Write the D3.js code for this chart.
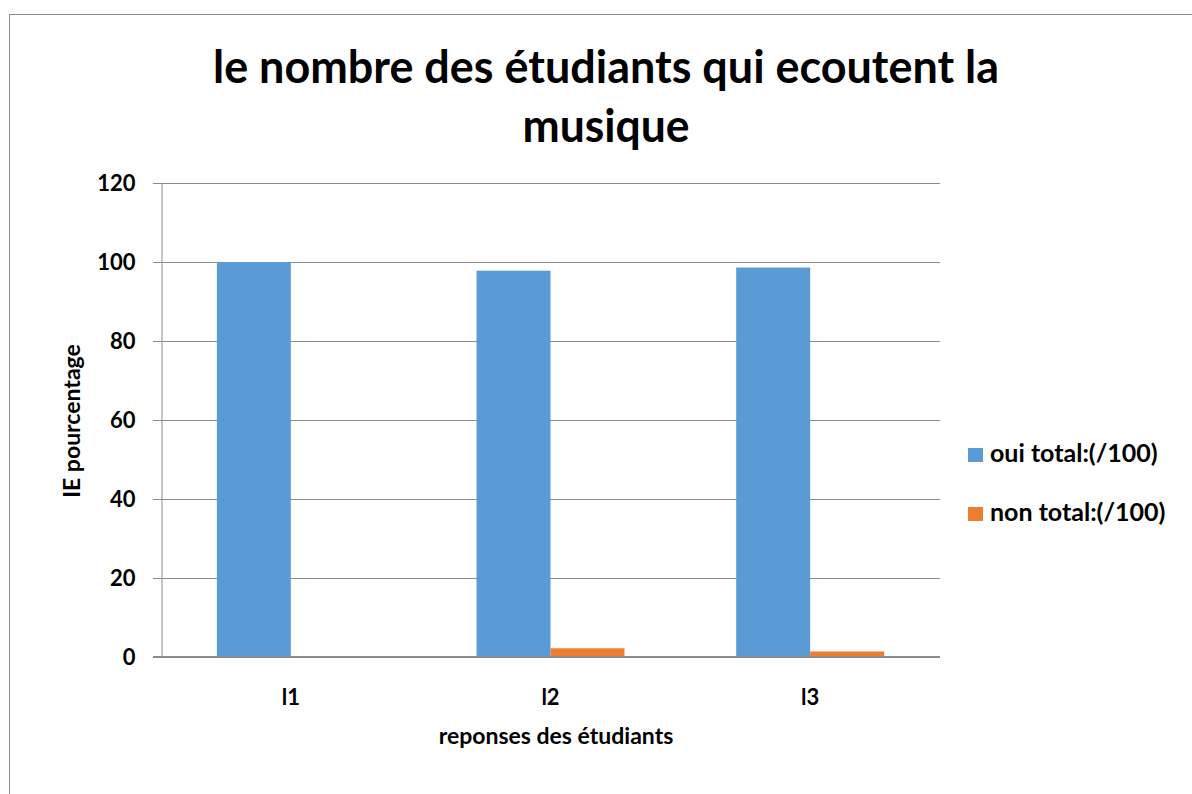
<!DOCTYPE html>
<html>
<head>
<meta charset="utf-8">
<script src="https://cdn.jsdelivr.net/npm/d3@7"></script>
<style>
  body { margin: 0; background: #fff; }
  text { font-family: Lato, "Open Sans", sans-serif; font-weight: bold; fill: #000; }
</style>
</head>
<body>
<div id="chart"></div>
<script>
// data
var categories = ["l1", "l2", "l3"];
var seriesNames = ["oui total:(/100)", "non total:(/100)"];
var ouiValues = [100, 97.8, 98.6];
var nonValues = [0, 2.2, 1.4];
var yTicks = [0, 20, 40, 60, 80, 100, 120];
var titleLines = ["le nombre des étudiants qui ecoutent la", "musique"];
var colors = ["#5b9bd5", "#ed7d31"];

var width = 1192, height = 794;
var plotLeft = 161, plotRight = 940, plotTop = 183, plotBottom = 657;

var svg = d3.select("#chart").append("svg")
    .attr("width", width).attr("height", height);

// chart frame
svg.append("rect")
    .attr("x", 9.5).attr("y", 14.5)
    .attr("width", width + 20).attr("height", height + 20)
    .attr("fill", "#fff").attr("stroke", "#8c8c8c").attr("stroke-width", 1);

var x0 = d3.scaleBand().domain(categories).range([plotLeft, plotRight]).padding(0);
var x1 = d3.scaleBand().domain(seriesNames).range([0, x0.bandwidth()])
    .paddingInner(0).paddingOuter(0.755);
var y = d3.scaleLinear().domain([0, 120]).range([plotBottom, plotTop]);

// gridlines
svg.append("g").selectAll("line").data(yTicks).enter().append("line")
    .attr("x1", plotLeft - 8).attr("x2", plotRight)
    .attr("y1", function(d) { return Math.round(y(d)) + 0.5; })
    .attr("y2", function(d) { return Math.round(y(d)) + 0.5; })
    .attr("stroke", "#8c8c8c")
    .attr("stroke-width", 1);

// y axis
var yAxis = svg.append("g")
    .attr("transform", "translate(" + (plotLeft + 0.5) + ",0)")
    .call(d3.axisLeft(y).tickValues(yTicks).tickSize(0).tickPadding(26));
yAxis.select(".domain").attr("stroke", "#8c8c8c");
yAxis.selectAll("text").style("font-size", "22px").style("font-family", "Lato").style("font-weight", "bold").attr("fill", "#000");

// bars
var rows = categories.map(function(c, i) {
  return { cat: c, vals: [ouiValues[i], nonValues[i]] };
});
var groups = svg.append("g").selectAll("g").data(rows).enter().append("g")
    .attr("transform", function(d) { return "translate(" + x0(d.cat) + ",0)"; });
groups.selectAll("rect")
    .data(function(d) { return d.vals.map(function(v, j) { return { s: seriesNames[j], v: v, j: j }; }); })
    .enter().append("rect")
    .attr("x", function(d) { return x1(d.s); })
    .attr("width", x1.bandwidth())
    .attr("y", function(d) { return y(d.v); })
    .attr("height", function(d) { return plotBottom - y(d.v); })
    .attr("fill", function(d) { return colors[d.j]; });

// baseline over bars
svg.append("line")
    .attr("x1", plotLeft - 8).attr("x2", plotRight)
    .attr("y1", plotBottom).attr("y2", plotBottom)
    .attr("stroke", "#8c8c8c").attr("stroke-width", 2);

// x axis labels
var xAxis = svg.append("g")
    .attr("transform", "translate(0," + plotBottom + ")")
    .call(d3.axisBottom(x0).tickSize(0).tickPadding(32));
xAxis.select(".domain").remove();
xAxis.selectAll("text").style("font-size", "22px").style("font-family", "Lato").style("font-weight", "bold").attr("fill", "#000");

// axis titles
svg.append("text")
    .attr("x", 556).attr("y", 744)
    .attr("text-anchor", "middle")
    .style("font-size", "23px")
    .text("reponses des étudiants");

svg.append("text")
    .attr("transform", "translate(80,421) rotate(-90)")
    .attr("text-anchor", "middle")
    .style("font-size", "23px")
    .text("IE pourcentage");

// title
var titleY = [83, 142];
var titleW = [786, 167];
titleLines.forEach(function(t, i) {
  svg.append("text")
    .attr("x", 606).attr("y", titleY[i])
    .attr("text-anchor", "middle")
    .attr("textLength", titleW[i])
    .attr("lengthAdjust", "spacingAndGlyphs")
    .style("font-size", "46px")
    .text(t);
});

// legend
var legend = svg.append("g").selectAll("g").data(seriesNames).enter().append("g")
    .attr("transform", function(d, i) { return "translate(968," + (448 + i * 59) + ")"; });
legend.append("rect")
    .attr("width", 15).attr("height", 14)
    .attr("fill", function(d, i) { return colors[i]; });
legend.append("text")
    .attr("x", 22).attr("y", 14)
    .style("font-size", "25px")
    .text(function(d) { return d; });
</script>
</body>
</html>
